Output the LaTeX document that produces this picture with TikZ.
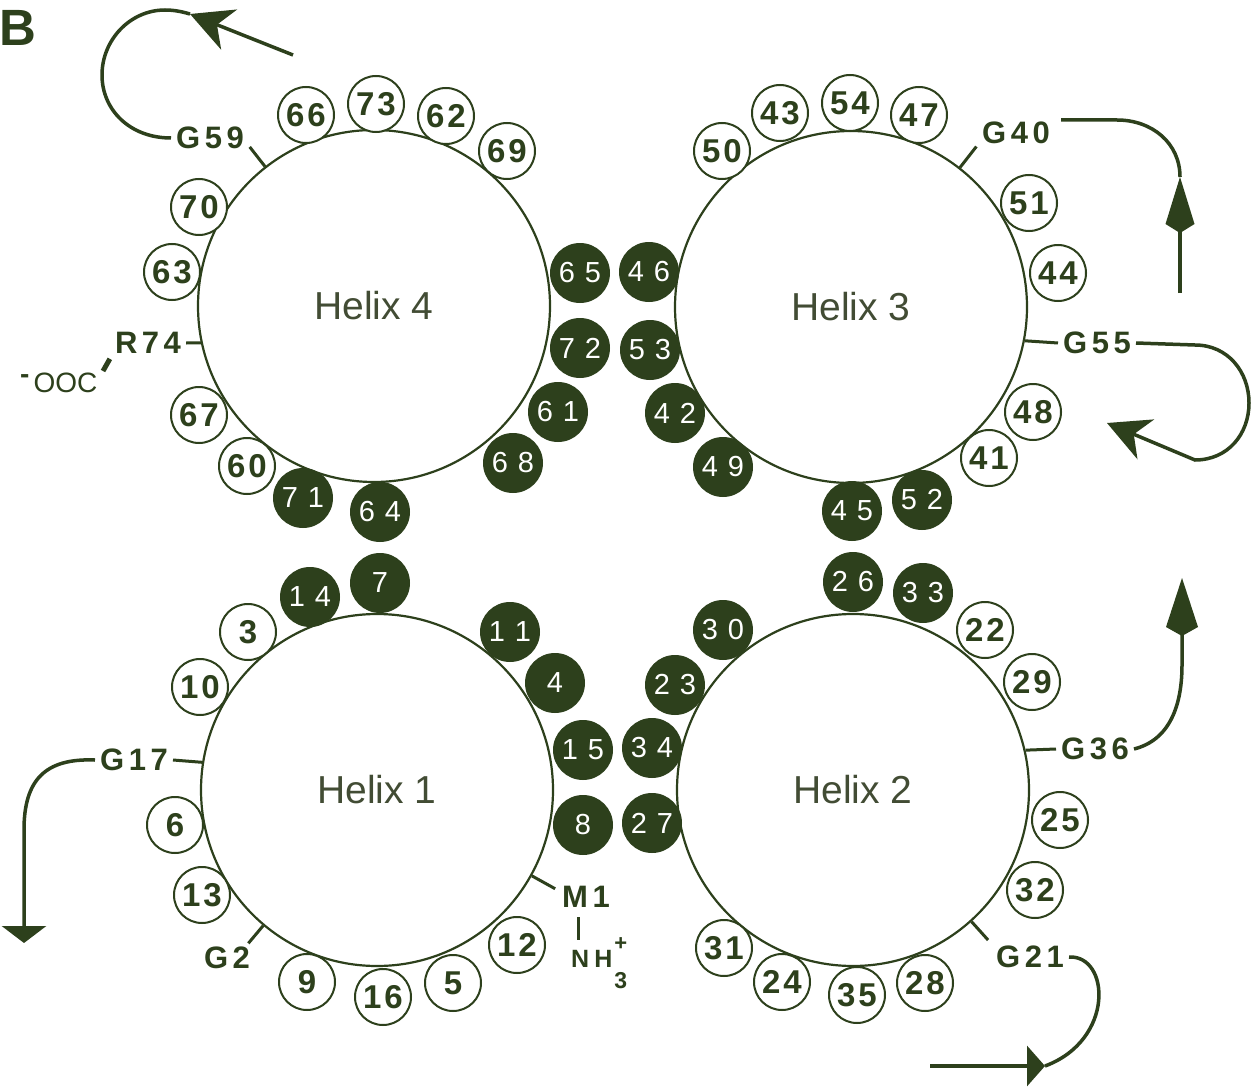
\documentclass[tikz,border=0pt]{standalone}
\usepackage{fontspec}
\setmainfont{Liberation Sans}
\usetikzlibrary{arrows.meta,calc}
\definecolor{ink}{RGB}{45,64,28}
\definecolor{helixink}{RGB}{66,76,52}
\newcommand\wnum[2]{#1\kern3pt#2}
\newcommand\dnum[2]{#1\kern10pt#2}
\newcommand\lsp{\kern4.5pt}
\begin{document}
\begin{tikzpicture}[x=1pt,y=-1pt,
  helix/.style={circle, draw=ink, line width=2.2pt, minimum size=352pt, inner sep=0pt, fill=white, text=helixink, font=\fontsize{39}{39}\selectfont},
  wres/.style={circle, draw=ink, line width=2pt, fill=white, minimum size=56pt, inner sep=0pt, text=ink, font=\fontsize{33}{33}\selectfont\bfseries},
  dres/.style={circle, fill=ink, minimum size=60pt, inner sep=0pt, text=white, font=\fontsize{29}{29}\selectfont},
  glab/.style={text=ink, font=\fontsize{31}{31}\selectfont\bfseries, inner sep=5pt},
  bond/.style={draw=ink, line width=3pt},
  loopline/.style={draw=ink, line width=3.5pt},
  stealthtip/.style={-{Stealth[length=42pt,width=43pt,inset=13pt]}},
  kitetip/.style={-{Kite[length=56pt,width=29pt,inset=9pt]}},
]
\path[use as bounding box, fill=white] (0,0) rectangle (1253,1089);

% panel letter
\node[text=ink, font=\fontsize{51}{51}\selectfont\bfseries] (panel) at (18,28) {B};

% helices
\node[helix] (h4) at (374,306) {Helix 4};
\node[helix] (h3) at (851,307) {Helix 3};
\node[helix] (h1) at (377,790) {Helix 1};
\node[helix] (h2) at (853,790) {Helix 2};

% labels
\node[glab] (g59) at (210,138) {G\lsp5\lsp9};
\node[glab] (r74) at (148,343) {R\lsp7\lsp4};
\node[text=ink, font=\fontsize{28}{28}\selectfont, anchor=base west, inner sep=0pt] (ooc) at (20,392) {\raisebox{9pt}{\textbf{-}}\kern4pt OOC};
\node[glab] (g40) at (1016,133) {G\lsp4\lsp0};
\node[glab] (g55) at (1097,343) {G\lsp5\lsp5};
\node[glab] (g36) at (1095,749) {G\lsp3\lsp6};
\node[glab] (g21) at (1030,957) {G\lsp2\lsp1};
\node[glab] (g17) at (134,760) {G\lsp1\lsp7};
\node[glab] (g2) at (227,958) {G\lsp2};
\node[glab] (m1) at (586,897) {M\lsp1};
\node[text=ink, font=\fontsize{25}{25}\selectfont\bfseries, anchor=base west, inner sep=0pt] (nh) at (571,967)
  {N\kern5pt H\kern2pt\rlap{\raisebox{-21pt}{\fontsize{23}{23}\selectfont 3}}\raisebox{17pt}{\fontsize{22}{22}\selectfont +}};

% ticks / bonds
\draw[bond] (h4.128) -- ($(h4.center)!1.14!(h4.128)$);
\draw[bond] (h4.192) -- (r74.east);
\coordinate (oocb) at (103,371);
\draw[draw=ink, line width=5pt] (oocb) -- (r74.south west);
\draw[bond] (h3.52) -- ($(h3.center)!1.15!(h3.52)$);
\draw[bond] (h3.-11.6) -- (g55.west);
\draw[bond] (h2.13.6) -- (g36.west);
\draw[bond] (h2.-48) -- ($(h2.center)!1.14!(h2.-48)$);
\draw[bond] (h1.171) -- (g17.east);
\draw[bond] (h1.230) -- ($(h1.center)!1.13!(h1.230)$);
\draw[bond] (h1.-29) -- ($(h1.center)!1.15!(h1.-29)$);
\coordinate (nb1) at (578,917);
\coordinate (nb2) at (578,940);
\draw[bond] (nb1) -- (nb2);

% Helix 4 residues
\node[wres] (r66) at (306,115) {\wnum66};
\node[wres] (r73) at (376,104) {\wnum73};
\node[wres] (r62) at (446,116) {\wnum62};
\node[wres] (r69) at (507,151) {\wnum69};
\node[wres] (r70) at (199,207) {\wnum70};
\node[wres] (r63) at (172,272) {\wnum63};
\node[wres] (r67) at (199,415) {\wnum67};
\node[wres] (r60) at (247,466) {\wnum60};
\node[dres] (r71) at (303,498) {\dnum71};
\node[dres] (r64) at (380,512) {\dnum64};
\node[dres] (r68) at (513,463) {\dnum68};
\node[dres] (r61) at (558,412) {\dnum61};
\node[dres] (r72) at (580,348) {\dnum72};
\node[dres] (r65) at (580,273) {\dnum65};

% Helix 3 residues
\node[wres] (r50) at (722,151) {\wnum50};
\node[wres] (r43) at (780,113) {\wnum43};
\node[wres] (r54) at (850,103) {\wnum54};
\node[wres] (r47) at (919,115) {\wnum47};
\node[wres] (r51) at (1029,203) {\wnum51};
\node[wres] (r44) at (1058,273) {\wnum44};
\node[wres] (r48) at (1033,412) {\wnum48};
\node[wres] (r41) at (989,458) {\wnum41};
\node[dres] (r46) at (649,272) {\dnum46};
\node[dres] (r53) at (650,350) {\dnum53};
\node[dres] (r42) at (675,413) {\dnum42};
\node[dres] (r49) at (723,467) {\dnum49};
\node[dres] (r45) at (852,511) {\dnum45};
\node[dres] (r52) at (922,500) {\dnum52};

% Helix 1 residues
\node[wres] (r3) at (248,632) {3};
\node[wres] (r10) at (200,687) {\wnum10};
\node[wres] (r6) at (175,825) {6};
\node[wres] (r13) at (202,895) {\wnum13};
\node[wres] (r9) at (307,982) {9};
\node[wres] (r16) at (383,997) {\wnum16};
\node[wres] (r5) at (453,983) {5};
\node[wres] (r12) at (517,945) {\wnum12};
\node[dres] (r14) at (310,597) {\dnum14};
\node[dres] (r7) at (380,583) {7};
\node[dres] (r11) at (510,632) {\dnum11};
\node[dres] (r4) at (555,683) {4};
\node[dres] (r15) at (583,750) {\dnum15};
\node[dres] (r8) at (583,825) {8};

% Helix 2 residues
\node[wres] (r22) at (985,630) {\wnum22};
\node[wres] (r29) at (1032,682) {\wnum29};
\node[wres] (r25) at (1060,820) {\wnum25};
\node[wres] (r32) at (1035,890) {\wnum32};
\node[wres] (r28) at (925,983) {\wnum28};
\node[wres] (r35) at (857,995) {\wnum35};
\node[wres] (r24) at (782,982) {\wnum24};
\node[wres] (r31) at (724,948) {\wnum31};
\node[dres] (r26) at (853,582) {\dnum26};
\node[dres] (r33) at (923,593) {\dnum33};
\node[dres] (r30) at (723,630) {\dnum30};
\node[dres] (r23) at (675,685) {\dnum23};
\node[dres] (r34) at (652,748) {\dnum34};
\node[dres] (r27) at (652,823) {\dnum27};

% loops
\coordinate (s59) at (293,55);
\coordinate (t59) at (190,14);
\draw[loopline, stealthtip] (s59) -- (t59);
\draw[loopline] (t59) .. controls (180,11) and (172,10) .. (165,10)
  .. controls (130,10) and (102,40) .. (102,75)
  .. controls (102,110) and (130,138) .. (g59.west);

\coordinate (s40) at (1180,293);
\coordinate (t40) at (1180,177);
\coordinate (g40h) at ([xshift=6pt]g40.east |- 0,120);
\draw[loopline, kitetip] (s40) -- (t40);
\draw[loopline] (t40) .. controls (1180,143) and (1152,120) .. (1117,120) -- (g40h);

\coordinate (t55) at (1107,423);
\draw[loopline, stealthtip] (g55.east) -- (1195,345)
  .. controls (1228,345) and (1249,372) .. (1249,403)
  .. controls (1249,434) and (1228,460) .. (1195,460) -- (t55);

\coordinate (t36) at (1182,578);
\draw[loopline, -{Kite[length=58pt,width=32pt,inset=9pt]}] (g36.east)
  .. controls (1170,740) and (1182,705) .. (1182,665) -- (t36);

\coordinate (t17) at (24,943);
\draw[loopline, -{Triangle[length=17pt,width=44pt]}] (g17.west)
  .. controls (45,758) and (24,780) .. (24,830) -- (t17);

\coordinate (s21) at (930,1066);
\coordinate (t21) at (1045,1066);
\draw[loopline, -{Triangle[length=18pt,width=40pt]}] (s21) -- (t21);
\draw[loopline] (g21.east) .. controls (1110,955) and (1115,1040) .. (t21);
\end{tikzpicture}
\end{document}
